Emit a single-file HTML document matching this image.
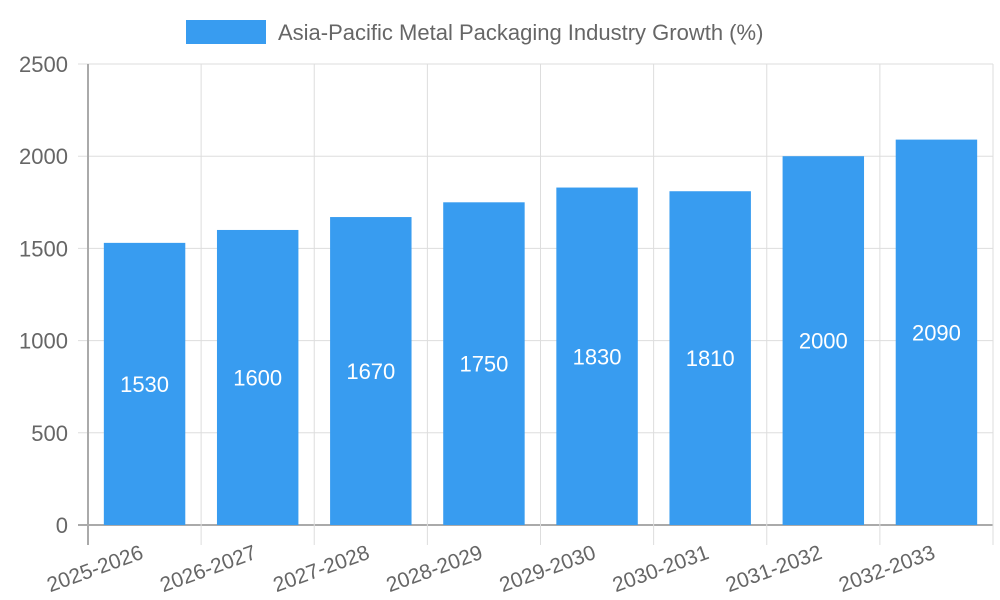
<!DOCTYPE html>
<html><head><meta charset="utf-8"><style>
body{margin:0;background:#fff;}
svg{font-family:"Liberation Sans",sans-serif;display:block}
</style></head><body>
<svg width="1000" height="600">
<g>
<rect x="186" y="20" width="80" height="24" fill="#389cf0"/>
<text x="278" y="40" font-size="22" fill="#666">Asia-Pacific Metal Packaging Industry Growth (%)</text>
</g>
<g id="grid"></g><g id="bars"></g><g id="axes"></g>
</svg>
<script>
const categories=["2025-2026","2026-2027","2027-2028","2028-2029","2029-2030","2030-2031","2031-2032","2032-2033"];
const values=[1530,1600,1670,1750,1830,1810,2000,2090];
const yTicks=[0,500,1000,1500,2000,2500];
const L=88,R=993,T=64,B=525,yMax=2500;
const cw=(R-L)/categories.length;
const y=v=>B-(B-T)*v/yMax;
const x=i=>L+cw*i;
const NS="http://www.w3.org/2000/svg";
function mk(p,tag,a){const e=document.createElementNS(NS,tag);for(const k in a)e.setAttribute(k,a[k]);document.getElementById(p).appendChild(e);return e;}
yTicks.forEach(t=>{
 const l=mk('grid','line',{x1:L-10,x2:R,y1:y(t),y2:y(t),stroke:t===0?'#aaa':'#ddd','stroke-width':t===0?2:1});
 
 
 const tx=mk('axes','text',{x:L-20,y:y(t)+8,'text-anchor':'end','font-size':22,fill:'#666'});
 tx.textContent=t;
 
 
});
for(let i=0;i<=categories.length;i++){
 const l=mk('grid','line',{x1:x(i),x2:x(i),y1:T,y2:B+20,stroke:i===0?'#aaa':'#ddd','stroke-width':i===0?2:1});
 
 
}
categories.forEach((c,i)=>{
 const bw=cw*0.72,cx=x(i)+cw/2;
 const r=mk('bars','rect',{x:cx-bw/2,y:y(values[i]),width:bw,height:B-y(values[i]),fill:'#389cf0'});
 
 
 const v=mk('bars','text',{x:cx,y:(y(values[i])+B)/2+8,'text-anchor':'middle','font-size':22,fill:'#fff'});
 v.textContent=values[i];
 
 
 const t=mk('axes','text',{x:cx,y:B+33,'text-anchor':'end','font-size':21,fill:'#666',transform:`rotate(-20 ${cx} ${B+33})`});
 t.textContent=c;
 
 
});
</script>
</body></html>
